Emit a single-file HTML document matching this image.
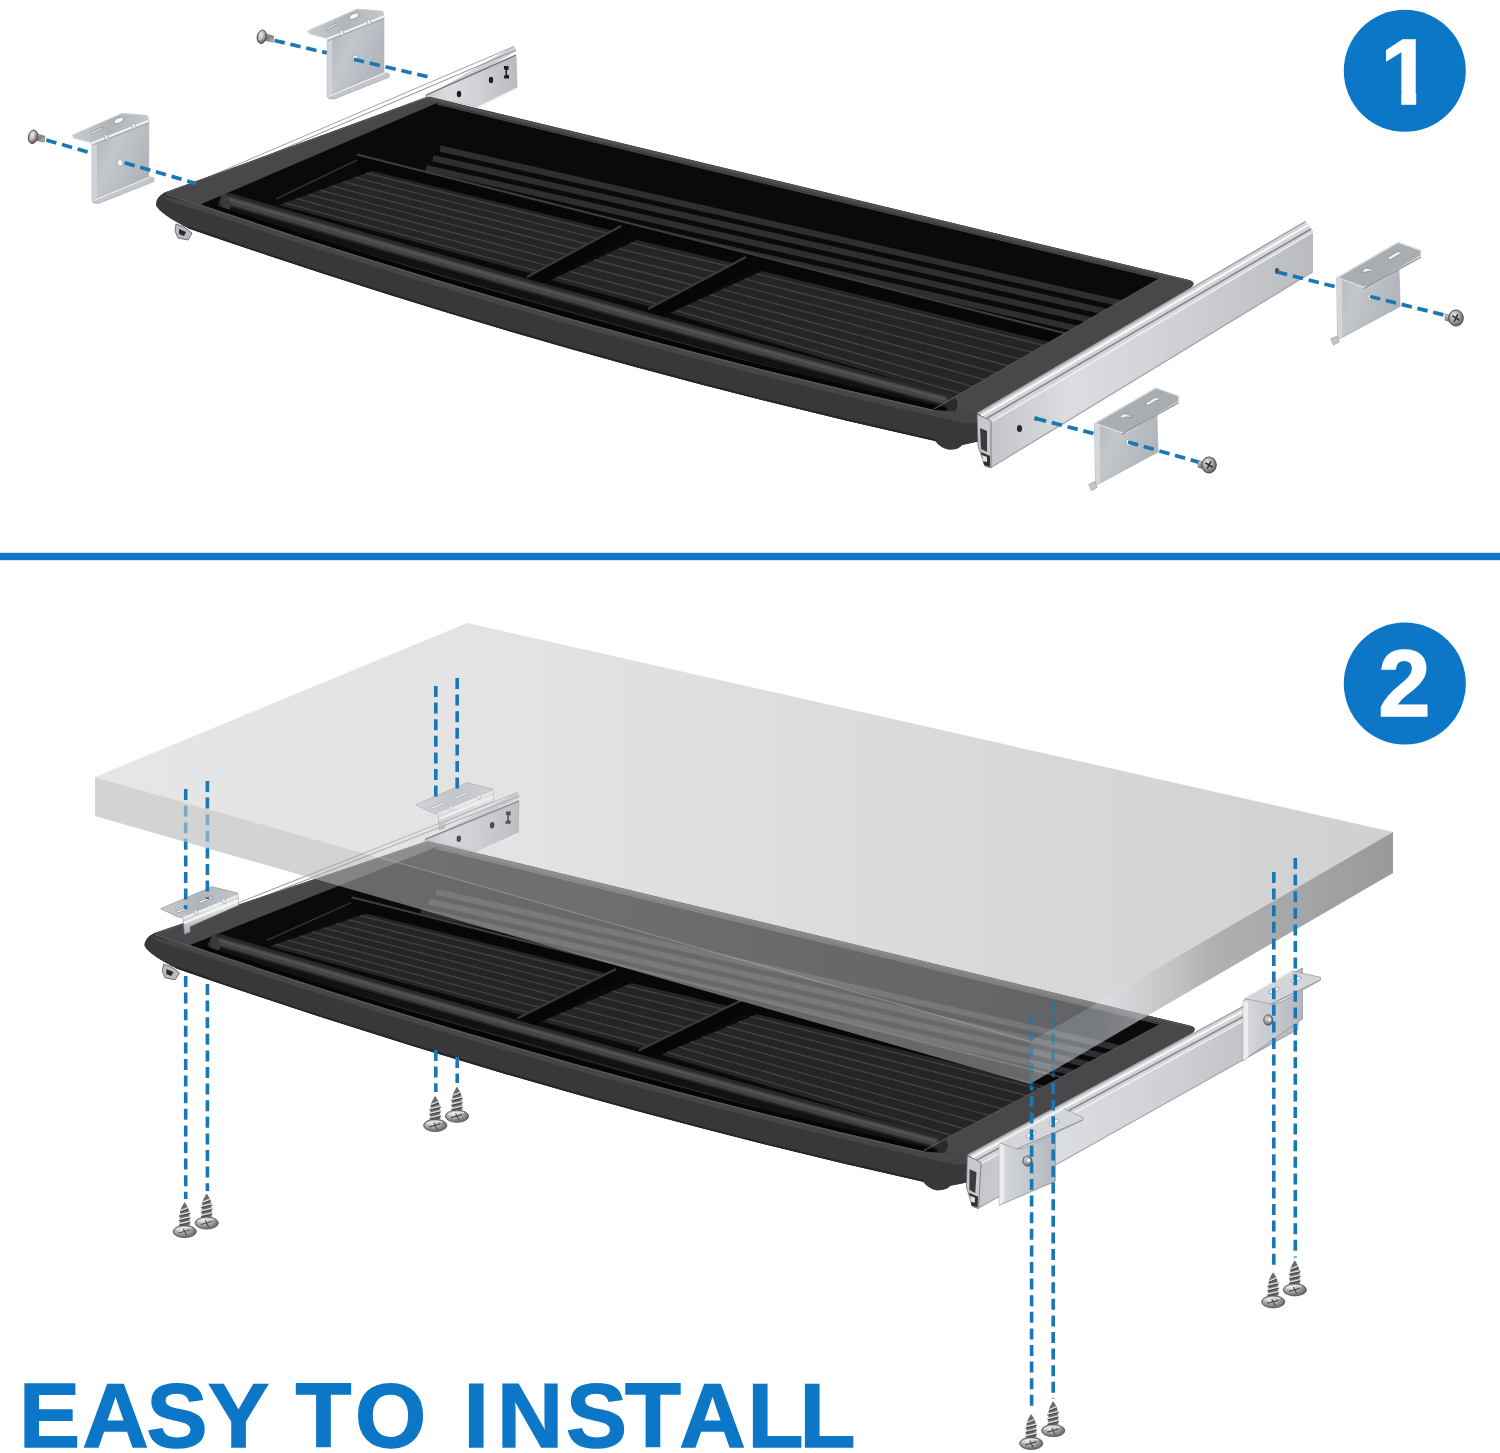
<!DOCTYPE html>
<html lang="en"><head><meta charset="utf-8"><title>Easy to install</title>
<style>html,body{margin:0;padding:0;background:#fff}body{width:1500px;height:1453px;overflow:hidden}svg{display:block}text{font-family:"Liberation Sans",sans-serif;font-weight:bold}</style></head><body>
<svg width="1500" height="1453" viewBox="0 0 1500 1453">
<defs>
<linearGradient id="gRailFace" x1="0" y1="0" x2="1" y2="0">
  <stop offset="0" stop-color="#c3c5c8"/><stop offset="0.25" stop-color="#dcdde0"/>
  <stop offset="0.6" stop-color="#cfd0d3"/><stop offset="1" stop-color="#b9bbbf"/>
</linearGradient>
<linearGradient id="gRailTop" x1="0" y1="0" x2="0.05" y2="1" gradientUnits="objectBoundingBox">
  <stop offset="0" stop-color="#9a9ca0"/><stop offset="0.5" stop-color="#f4f4f5"/><stop offset="1" stop-color="#8d8f93"/>
</linearGradient>
<linearGradient id="gPlate" x1="0" y1="0" x2="1" y2="0.6">
  <stop offset="0" stop-color="#aab0b7"/><stop offset="0.45" stop-color="#c3c7cc"/><stop offset="1" stop-color="#b0b4ba"/>
</linearGradient>
<linearGradient id="gFlange" x1="0" y1="0" x2="1" y2="0">
  <stop offset="0" stop-color="#c9ccd0"/><stop offset="0.5" stop-color="#b1b5ba"/><stop offset="1" stop-color="#c3c6ca"/>
</linearGradient>
<linearGradient id="gPlate2" x1="0" y1="0" x2="1" y2="0">
  <stop offset="0" stop-color="#d6d8db"/><stop offset="0.5" stop-color="#c6c9cd"/><stop offset="1" stop-color="#b3b7bc"/>
</linearGradient>
<linearGradient id="gZ" x1="0" y1="0" x2="0.3" y2="1">
  <stop offset="0" stop-color="#aeb2b7"/><stop offset="0.45" stop-color="#e6e7e9"/><stop offset="1" stop-color="#9da1a6"/>
</linearGradient>
<linearGradient id="gBar" x1="0" y1="0" x2="0" y2="1">
  <stop offset="0" stop-color="#141415"/><stop offset="0.35" stop-color="#343436"/><stop offset="0.7" stop-color="#1a1a1b"/><stop offset="1" stop-color="#0b0b0c"/>
</linearGradient>
<linearGradient id="gDeskTop" x1="95" y1="0" x2="1393" y2="0" gradientUnits="userSpaceOnUse">
  <stop offset="0" stop-color="#cecfd1"/><stop offset="0.35" stop-color="#c8c9cb"/><stop offset="0.62" stop-color="#b9babc"/><stop offset="1" stop-color="#a6a7a9"/>
</linearGradient>
<linearGradient id="gDeskTop2" x1="95" y1="0" x2="1393" y2="0" gradientUnits="userSpaceOnUse">
  <stop offset="0" stop-color="#c9cacc" stop-opacity="0"/><stop offset="0.45" stop-color="#c9cacc" stop-opacity="0.08"/><stop offset="0.65" stop-color="#c6c7c9" stop-opacity="0.3"/>
  <stop offset="0.82" stop-color="#c3c4c6" stop-opacity="0.7"/><stop offset="1" stop-color="#bfc0c2" stop-opacity="0.95"/>
</linearGradient>
<linearGradient id="gDeskSide" x1="1030" y1="0" x2="1393" y2="0" gradientUnits="userSpaceOnUse">
  <stop offset="0" stop-color="#dbe3ec" stop-opacity="0.5"/><stop offset="0.2" stop-color="#c3c7cb" stop-opacity="0.6"/>
  <stop offset="0.5" stop-color="#a9aaac" stop-opacity="0.92"/><stop offset="1" stop-color="#98999b"/>
</linearGradient>
<linearGradient id="gScrew" x1="0" y1="0" x2="1" y2="1">
  <stop offset="0" stop-color="#e8e8e8"/><stop offset="0.5" stop-color="#7d7d7d"/><stop offset="1" stop-color="#c9c9c9"/>
</linearGradient>
<radialGradient id="gHead" cx="0.4" cy="0.35" r="0.7">
  <stop offset="0" stop-color="#f2f2f2"/><stop offset="0.55" stop-color="#9b9b9b"/><stop offset="1" stop-color="#5a5a5a"/>
</radialGradient>
<g id="wscrew"><path d="M0,0 C1.8,3 3.8,6 4.2,9.5 L4.9,26.5 L-4.9,26.5 L-4.2,9.5 C-3.8,6 -1.8,3 0,0 Z" fill="#6b6b6b" stroke="#4a4a4a" stroke-width="0.5"/><path d="M-3.2,7.8 L3.2,5.2" stroke="#d9d9d9" stroke-width="1.5" stroke-linecap="round"/><path d="M-3.2,9.2 L3.2,6.6" stroke="#3e3e3e" stroke-width="0.9" stroke-linecap="round"/><path d="M-5.4,12.3 L5.4,9.7" stroke="#d9d9d9" stroke-width="1.5" stroke-linecap="round"/><path d="M-5.4,13.7 L5.4,11.1" stroke="#3e3e3e" stroke-width="0.9" stroke-linecap="round"/><path d="M-5.4,16.8 L5.4,14.2" stroke="#d9d9d9" stroke-width="1.5" stroke-linecap="round"/><path d="M-5.4,18.2 L5.4,15.6" stroke="#3e3e3e" stroke-width="0.9" stroke-linecap="round"/><path d="M-5.4,21.3 L5.4,18.7" stroke="#d9d9d9" stroke-width="1.5" stroke-linecap="round"/><path d="M-5.4,22.7 L5.4,20.1" stroke="#3e3e3e" stroke-width="0.9" stroke-linecap="round"/><path d="M-5.4,25.8 L5.4,23.2" stroke="#d9d9d9" stroke-width="1.5" stroke-linecap="round"/><path d="M-5.4,27.2 L5.4,24.6" stroke="#3e3e3e" stroke-width="0.9" stroke-linecap="round"/><ellipse cx="0" cy="29" rx="11.6" ry="6.1" fill="url(#gHead)" stroke="#4e4e4e" stroke-width="0.8"/><path d="M-6,30.5 L5,27.5 M-1.5,26.2 L2,33" stroke="#4a4a4a" stroke-width="1.2"/><path d="M-9,27.5 Q-2,23.5 7,25.5" stroke="#f4f4f4" stroke-width="1.2" fill="none" opacity="0.8"/></g><g id="mscrewL">
<path d="M2,-3.6 L12,-0.6 L11.2,5.4 L1.2,3.2 Z" fill="url(#gScrew)" stroke="#5a5a5a" stroke-width="0.5"/>
<ellipse cx="0" cy="0" rx="4.6" ry="6.8" fill="url(#gHead)" stroke="#3f3f3f" stroke-width="0.8" transform="rotate(12)"/>
<ellipse cx="-1.2" cy="-0.5" rx="2" ry="4.4" fill="#dcdcdc" opacity="0.55" transform="rotate(12)"/>
</g>
<g id="mscrewR">
<path d="M-11,-4.2 L-2,-1.5 L-2,5 L-11,2.2 Z" fill="url(#gScrew)" stroke="#5a5a5a" stroke-width="0.5"/>
<ellipse cx="0" cy="0" rx="7.3" ry="8" fill="url(#gHead)" stroke="#444" stroke-width="0.9"/>
<path d="M-3.6,-2.2 L3.6,2.2 M1.8,-3.6 L-1.8,3.6" stroke="#333" stroke-width="1.6"/>
</g><g id="brL"><polygon points="92.1,142.7 148.7,120.3 148.7,176.8 92.1,200.3" fill="url(#gPlate)" stroke="#a3a6ab" stroke-width="0.7"/><polygon points="92.1,142.7 97.0,140.8 97.0,198.2 92.1,200.3" fill="#cfd2d6" /><polygon points="92.1,200.3 148.7,176.8 154.0,178.0 154.0,181.5 98.5,203.5 93.5,203.0" fill="#c3c6ca" stroke="#a0a3a8" stroke-width="0.6" stroke-linejoin="round"/><line x1="93.0" y1="200.6" x2="150.0" y2="177.0" stroke="#ecedef" stroke-width="1.3" /><polygon points="72.4,135.2 122.0,113.3 147.6,115.5 148.7,120.3 92.1,142.7 74.0,138.0" fill="url(#gFlange)" stroke="#cfd1d4" stroke-width="1" stroke-linejoin="round"/><line x1="92.1" y1="143.2" x2="148.7" y2="120.8" stroke="#f1f2f3" stroke-width="2" /><line x1="92.5" y1="145.0" x2="148.7" y2="122.8" stroke="#9a9da2" stroke-width="0.9" /><ellipse cx="106.3" cy="137.2" rx="1.8" ry="3.2" fill="#eceded" stroke="#8b8e93" stroke-width="0.6" transform="rotate(-20 106.3 137.2)"/><ellipse cx="133.8" cy="126.2" rx="1.8" ry="3.2" fill="#eceded" stroke="#8b8e93" stroke-width="0.6" transform="rotate(-20 133.8 126.2)"/><path d="M90.5,132.6 L102.3,127 L103.2,128.4 L91.6,134.2 Z" fill="#f6f6f7" stroke="#7e8186" stroke-width="0.7" stroke-linejoin="round"/><ellipse cx="118.8" cy="120.4" rx="5.2" ry="2.6" fill="#f6f6f7" stroke="#7e8186" stroke-width="0.7" transform="rotate(-22 118.8 120.4)"/><ellipse cx="120" cy="162.8" rx="2.7" ry="3.3" fill="#fafafa" stroke="#8e9196" stroke-width="0.6"/></g><g id="brR"><polygon points="1094.7,423.3 1156.0,388.0 1158.0,452.0 1095.5,485.5" fill="url(#gPlate)" stroke="#a3a6ab" stroke-width="0.7"/><polygon points="1094.7,423.3 1100.0,426.0 1100.0,483.0 1095.5,485.5" fill="#d4d6d9" /><polygon points="1088.7,484.5 1095.0,481.5 1097.0,487.5 1091.5,490.5" fill="#c4c6c9" stroke="#8e9094" stroke-width="0.6"/><polygon points="1095.3,423.3 1156.0,388.0 1178.7,396.0 1178.7,401.5 1127.0,432.2 1121.3,432.7" fill="#a9acb1" stroke="#dddee0" stroke-width="1.3" stroke-linejoin="round"/><line x1="1122.0" y1="434.0" x2="1178.7" y2="402.8" stroke="#8b8d91" stroke-width="1.1" /><path d="M1119,417.5 l4.5,-3.8 l5.5,1 l3,3.2 l-4.5,-1.2 l-5,1.2 z" fill="#eeeeef" stroke="#777a7f" stroke-width="0.6"/><path d="M1145,403.5 l10.5,-6.3 l3.2,0.6 l1,2.6 l-2.2,-0.6 l-9.5,5.6 z" fill="#eeeeef" stroke="#777a7f" stroke-width="0.6"/><ellipse cx="1128.5" cy="442.5" rx="2.6" ry="3.2" fill="#fafafa" stroke="#8a8d92" stroke-width="0.6"/></g><g id="railL"><polygon points="157.0,199.0 427.0,96.0 514.0,46.0 516.5,51.0 431.0,101.0 161.0,203.0" fill="#cfd0d3" /><line x1="158.0" y1="198.5" x2="514.0" y2="46.5" stroke="#a2a4a8" stroke-width="1" /><line x1="160.0" y1="201.5" x2="516.0" y2="50.0" stroke="#8f9195" stroke-width="1" /></g><g id="railLface"><polygon points="425.0,96.0 516.0,56.0 517.0,88.0 478.0,107.0" fill="url(#gRailFace)" stroke="#a5a7ab" stroke-width="0.6"/><line x1="426.0" y1="95.0" x2="516.0" y2="55.0" stroke="#6f7175" stroke-width="1.3" /><line x1="478.0" y1="107.5" x2="517.0" y2="88.5" stroke="#f3f3f4" stroke-width="2" /><ellipse cx="459" cy="94" rx="2.2" ry="3.3" fill="#1d1d1f"/><ellipse cx="491" cy="80" rx="2.2" ry="3.3" fill="#1d1d1f"/><path d="M504,66 h4.5 v4 h-1.5 v5 h2 v3.5 h-5 v-3 h1.5 v-6 h-1.5 z" fill="#1d1d1f"/></g><g id="tray"><polygon points="176.0,224.0 184.0,227.0 192.0,233.0 188.0,240.0 178.0,238.0 175.0,231.0" fill="#b9bbbf" stroke="#55575b" stroke-width="0.8"/><polygon points="179.0,229.0 186.0,232.0 184.0,236.0 179.0,234.0" fill="#2a2a2c" /><path d="M156,205 Q156,197 165,192.5 L426,97.5 Q428.5,96.5 431,97.3 L1189,280 Q1197,282.5 1191,287.5 L983,414 L985,436 Q984,441 978,441.5 L962,445 Q958,450 949,449.5 Q941,448.5 935.0,440.8 Q561.5,357.9 188.0,228.0 Q160,214 156,205 Z" fill="#38383a"/><path d="M160,198 Q160,195 165,192.5 L426,97.5 Q428.5,96.5 431,97.3 L1189,280 Q1197,282.5 1191,287.5 L983,414 L934.0,410.0 Q566.5,328.3 199.0,204.1 Z" fill="#48484a"/><path d="M165,193 L427,98 L1189,281" fill="none" stroke="#565658" stroke-width="1.3"/><path d="M199.0,205.1 L437,103 L1161,278 L934.0,409.0 Q566.5,328.3 199.0,204.1 Z" fill="#0a0a0b"/><clipPath id="clipInner"><path d="M199.0,205.1 L437,103 L1161,278 L934.0,409.0 Q566.5,328.3 199.0,204.1 Z"/></clipPath><g clip-path="url(#clipInner)"><line x1="437.0" y1="103.5" x2="1161.0" y2="278.5" stroke="#454547" stroke-width="2.2" /><line x1="440.0" y1="148.5" x2="1150.0" y2="310.0" stroke="#2f2f31" stroke-width="6.2" /><line x1="433.0" y1="158.2" x2="1136.0" y2="318.6" stroke="#2f2f31" stroke-width="6.2" /><line x1="426.0" y1="167.9" x2="1122.0" y2="327.2" stroke="#2f2f31" stroke-width="6.2" /><line x1="419.0" y1="177.6" x2="1108.0" y2="335.8" stroke="#2f2f31" stroke-width="6.2" /><polygon points="357.0,154.0 1070.0,334.0 1058.0,351.0 357.0,171.0" fill="#070708" /><line x1="357.0" y1="154.5" x2="1070.0" y2="334.5" stroke="#3d3d3f" stroke-width="2" /><polygon points="372.0,171.0 622.0,233.0 533.0,274.0 279.0,205.0" fill="#252527" /><line x1="366.2" y1="173.1" x2="616.4" y2="235.6" stroke="#434345" stroke-width="1.3" /><line x1="354.6" y1="177.4" x2="605.3" y2="240.7" stroke="#434345" stroke-width="1.3" /><line x1="342.9" y1="181.6" x2="594.2" y2="245.8" stroke="#434345" stroke-width="1.3" /><line x1="331.3" y1="185.9" x2="583.1" y2="250.9" stroke="#434345" stroke-width="1.3" /><line x1="319.7" y1="190.1" x2="571.9" y2="256.1" stroke="#434345" stroke-width="1.3" /><line x1="308.1" y1="194.4" x2="560.8" y2="261.2" stroke="#434345" stroke-width="1.3" /><line x1="296.4" y1="198.6" x2="549.7" y2="266.3" stroke="#434345" stroke-width="1.3" /><line x1="284.8" y1="202.9" x2="538.6" y2="271.4" stroke="#434345" stroke-width="1.3" /><polygon points="637.0,240.0 746.0,266.0 655.0,308.0 551.0,280.0" fill="#252527" /><line x1="630.9" y1="242.9" x2="739.5" y2="269.0" stroke="#434345" stroke-width="1.3" /><line x1="618.6" y1="248.6" x2="726.5" y2="275.0" stroke="#434345" stroke-width="1.3" /><line x1="606.3" y1="254.3" x2="713.5" y2="281.0" stroke="#434345" stroke-width="1.3" /><line x1="594.0" y1="260.0" x2="700.5" y2="287.0" stroke="#434345" stroke-width="1.3" /><line x1="581.7" y1="265.7" x2="687.5" y2="293.0" stroke="#434345" stroke-width="1.3" /><line x1="569.4" y1="271.4" x2="674.5" y2="299.0" stroke="#434345" stroke-width="1.3" /><line x1="557.1" y1="277.1" x2="661.5" y2="305.0" stroke="#434345" stroke-width="1.3" /><polygon points="762.0,271.0 1062.0,345.0 962.0,399.0 670.0,313.0" fill="#252527" /><line x1="756.2" y1="273.6" x2="1055.8" y2="348.4" stroke="#434345" stroke-width="1.3" /><line x1="744.8" y1="278.9" x2="1043.2" y2="355.1" stroke="#434345" stroke-width="1.3" /><line x1="733.2" y1="284.1" x2="1030.8" y2="361.9" stroke="#434345" stroke-width="1.3" /><line x1="721.8" y1="289.4" x2="1018.2" y2="368.6" stroke="#434345" stroke-width="1.3" /><line x1="710.2" y1="294.6" x2="1005.8" y2="375.4" stroke="#434345" stroke-width="1.3" /><line x1="698.8" y1="299.9" x2="993.2" y2="382.1" stroke="#434345" stroke-width="1.3" /><line x1="687.2" y1="305.1" x2="980.8" y2="388.9" stroke="#434345" stroke-width="1.3" /><line x1="675.8" y1="310.4" x2="968.2" y2="395.6" stroke="#434345" stroke-width="1.3" /><polygon points="621.0,226.0 527.0,277.0 527.0,292.0 621.0,241.0" fill="#060607" /><line x1="621.0" y1="226.0" x2="527.0" y2="277.0" stroke="#3a3a3c" stroke-width="2.2" /><polygon points="746.0,257.0 648.0,309.0 648.0,324.0 746.0,272.0" fill="#060607" /><line x1="746.0" y1="257.0" x2="648.0" y2="309.0" stroke="#3a3a3c" stroke-width="2.2" /><line x1="357.0" y1="160.0" x2="276.0" y2="199.0" stroke="#303032" stroke-width="1.6" /></g><path d="M229.0,203.8 Q588.0,309.5 947.0,404.3" fill="none" stroke="#2a2a2c" stroke-width="21" stroke-linecap="round"/><path d="M231.0,210.4 Q587.5,315.3 944.0,409.5" fill="none" stroke="#121213" stroke-width="7" stroke-linecap="round"/><path d="M229.0,200.3 Q586.5,305.5 944.0,400.0" fill="none" stroke="#434346" stroke-width="7.5" stroke-linecap="round"/><path d="M229.0,199.3 Q586.5,304.5 944.0,399.0" fill="none" stroke="#525255" stroke-width="2.6" stroke-linecap="round"/><ellipse cx="225.5" cy="203" rx="4.4" ry="9.4" fill="#3a3a3c" transform="rotate(-14 225.5 203)"/><path d="M215.0,207.3 Q580.0,329.7 945.0,410.2" fill="none" stroke="#050506" stroke-width="4.5"/><path d="M156,205 Q156,197 165,192.5 L199.0,204.1 Q566.5,328.3 934.0,410.0 L983,414 L985,436 Q984,441 978,441.5 L962,445 Q958,450 949,449.5 Q941,448.5 935.0,440.8 Q561.5,357.9 188.0,228.0 Q160,214 156,205 Z" fill="#38383a"/><path d="M162,196.5 L199.0,204.1 Q566.5,328.3 934.0,410.0 L983,414 Q982,424 966,423.5 Q582.5,339.7 199.0,210.1 Q170,203 162,196.5 Z" fill="#464648"/><path d="M166,194 L199.0,204.7 Q566.5,328.9 934.0,410.6" fill="none" stroke="#5a5a5c" stroke-width="1.2"/><path d="M188.0,227.2 Q561.5,357.1 935.0,440.0" fill="none" stroke="#262627" stroke-width="2"/><line x1="1161.0" y1="278.0" x2="934.0" y2="409.0" stroke="#555557" stroke-width="1.2" /></g><g id="railR"><polygon points="977.0,413.0 1305.0,221.0 1313.0,231.0 991.0,421.0" fill="#d4d5d8" /><line x1="978.0" y1="413.5" x2="1305.5" y2="221.5" stroke="#9fa1a5" stroke-width="1.3" /><line x1="981.0" y1="416.0" x2="1308.0" y2="225.0" stroke="#fafafa" stroke-width="2" /><line x1="985.5" y1="419.0" x2="1311.0" y2="229.0" stroke="#85878b" stroke-width="1.6" /><polygon points="991.0,421.0 1313.0,231.0 1313.0,272.0 991.0,468.0" fill="url(#gRailFace)" /><line x1="991.0" y1="422.0" x2="1313.0" y2="232.0" stroke="#eff0f1" stroke-width="1.4" /><line x1="991.0" y1="467.5" x2="1313.0" y2="271.5" stroke="#a4a6aa" stroke-width="1.2" /><polygon points="977.0,414.0 991.0,421.0 991.0,468.0 985.0,466.0 978.0,446.0" fill="#c6c8cb" stroke="#6b6d71" stroke-width="0.8"/><polygon points="980.0,428.0 987.0,431.0 987.0,452.0 981.0,449.0" fill="#3b3c3f" /><polygon points="981.0,452.0 990.0,456.0 990.0,467.0 984.0,465.0" fill="#2f3033" /><polygon points="982.0,455.0 987.0,457.0 987.0,462.0 983.0,461.0" fill="#e1e2e4" /><ellipse cx="1019.5" cy="428.5" rx="2.6" ry="3.6" fill="#2a2a2c"/><ellipse cx="1036" cy="418.5" rx="2" ry="2.6" fill="#4d6f8f"/><ellipse cx="1277" cy="271" rx="2" ry="3" fill="#3d4a57"/></g><g id="railR2"><polygon points="977.0,413.0 1287.0,231.6 1295.3,241.5 991.0,421.0" fill="#d4d5d8" /><line x1="978.0" y1="413.5" x2="1287.5" y2="232.1" stroke="#9fa1a5" stroke-width="1.3" /><line x1="981.0" y1="416.0" x2="1290.0" y2="235.5" stroke="#fafafa" stroke-width="2" /><line x1="985.5" y1="419.0" x2="1293.1" y2="239.5" stroke="#85878b" stroke-width="1.6" /><polygon points="991.0,421.0 1295.3,241.5 1295.3,282.8 991.0,468.0" fill="url(#gRailFace)" /><line x1="991.0" y1="422.0" x2="1295.3" y2="242.5" stroke="#eff0f1" stroke-width="1.4" /><line x1="991.0" y1="467.5" x2="1295.3" y2="282.3" stroke="#a4a6aa" stroke-width="1.2" /><polygon points="977.0,414.0 991.0,421.0 991.0,468.0 985.0,466.0 978.0,446.0" fill="#c6c8cb" stroke="#6b6d71" stroke-width="0.8"/><polygon points="980.0,428.0 987.0,431.0 987.0,452.0 981.0,449.0" fill="#3b3c3f" /><polygon points="981.0,452.0 990.0,456.0 990.0,467.0 984.0,465.0" fill="#2f3033" /><polygon points="982.0,455.0 987.0,457.0 987.0,462.0 983.0,461.0" fill="#e1e2e4" /><ellipse cx="1019.5" cy="428.5" rx="2.6" ry="3.6" fill="#2a2a2c"/><ellipse cx="1036" cy="418.5" rx="2" ry="2.6" fill="#4d6f8f"/></g></defs>
<rect width="1500" height="1453" fill="#ffffff"/>
<g id="step1">
<use href="#railL"/><use href="#railLface"/><use href="#tray"/><use href="#railR"/>
<use href="#brL"/>
<use href="#brL" transform="translate(235.2,-104.3)"/>
<line x1="46.3" y1="140.0" x2="91.5" y2="153.1" stroke="#1877b4" stroke-width="3.7" stroke-dasharray="10.5 5.8" stroke-dashoffset="0.0"/>
<line x1="121.0" y1="161.7" x2="196.0" y2="183.5" stroke="#1877b4" stroke-width="3.7" stroke-dasharray="10.5 5.8" stroke-dashoffset="12.6"/>
<line x1="274.5" y1="40.5" x2="326.8" y2="52.9" stroke="#1877b4" stroke-width="3.7" stroke-dasharray="10.5 5.8" stroke-dashoffset="0.0"/>
<line x1="353.0" y1="59.1" x2="428.0" y2="76.8" stroke="#1877b4" stroke-width="3.7" stroke-dasharray="10.5 5.8" stroke-dashoffset="15.5"/>
<use href="#mscrewL" transform="translate(33,136.8)"/>
<use href="#mscrewL" transform="translate(261.8,36.8)"/>
<line x1="1036.0" y1="418.5" x2="1122.0" y2="441.0" stroke="#1877b4" stroke-width="3.7" stroke-dasharray="10.5 5.8" stroke-linecap="butt" />
<line x1="1277.0" y1="272.0" x2="1362.0" y2="293.5" stroke="#1877b4" stroke-width="3.7" stroke-dasharray="10.5 5.8" stroke-linecap="butt" />
<use href="#brR"/>
<use href="#brR" transform="translate(242.1,-145.6)"/>
<line x1="1128.0" y1="442.0" x2="1200.0" y2="462.5" stroke="#1877b4" stroke-width="3.7" stroke-dasharray="10.5 5.8" stroke-linecap="butt" />
<line x1="1370.0" y1="296.5" x2="1448.0" y2="316.0" stroke="#1877b4" stroke-width="3.7" stroke-dasharray="10.5 5.8" stroke-linecap="butt" />
<use href="#mscrewR" transform="translate(1209,465)"/>
<use href="#mscrewR" transform="translate(1456,318)"/>
</g>
<clipPath id="c1"><path d="M1370,30 H1440 V92 H1416.2 V110 H1401.3 V92 H1370 Z"/></clipPath>
<circle cx="1404.8" cy="70.8" r="61" fill="#0c77c6"/>
<text x="1380.5" y="104" font-size="93" fill="#fff" stroke="#fff" stroke-width="1.5" clip-path="url(#c1)">1</text>
<rect x="0" y="552.8" width="1500" height="7.4" fill="#0c77c6"/>
<g id="step2">
<g transform="matrix(1.01667 0.00682 -0.05682 0.97934 -2.5 743.5)"><use href="#railL"/><use href="#railLface"/><use href="#tray"/><use href="#railR2"/></g>
<g><polygon points="999.3,1142.7 1055.3,1117.0 1055.3,1181.3 999.3,1205.3" fill="url(#gPlate2)" stroke="#8d9095" stroke-width="0.8" stroke-linejoin="round"/><polygon points="999.3,1142.7 1004.3,1144.2 1004.3,1201.8 999.3,1205.3" fill="#eceded" /><polygon points="999.3,1142.7 1064.0,1108.7 1082.7,1117.3 1082.7,1120.0 1024.0,1148.5 1017.0,1149.0" fill="#d3d5d8" stroke="#9a9da2" stroke-width="0.8" stroke-linejoin="round"/><line x1="999.3" y1="1142.7" x2="1064.0" y2="1108.7" stroke="#f5f5f6" stroke-width="1.2" /><line x1="1017.0" y1="1149.0" x2="1082.7" y2="1120.0" stroke="#8b8e93" stroke-width="1.0" /><ellipse cx="1031" cy="1134.5" rx="5.5" ry="2.2" fill="#f8f8f9" stroke="#858a90" stroke-width="0.6" transform="rotate(-27 1031 1134.5)"/><ellipse cx="1054" cy="1122.5" rx="5.5" ry="2.2" fill="#f8f8f9" stroke="#858a90" stroke-width="0.6" transform="rotate(-27 1054 1122.5)"/><ellipse cx="1027.5" cy="1161" rx="4.6" ry="5.2" fill="url(#gHead)" stroke="#4e4e4e" stroke-width="0.8"/><ellipse cx="1028.5" cy="1160.5" rx="2.2" ry="2.6" fill="#e9e9ea" stroke="#6a6a6a" stroke-width="0.5"/></g>
<g><polygon points="1243.2,1000.8 1302.4,968.0 1302.4,1019.0 1243.2,1060.5" fill="url(#gPlate2)" stroke="#8d9095" stroke-width="0.8" stroke-linejoin="round"/><polygon points="1243.2,1000.8 1248.2,1002.3 1248.2,1057.0 1243.2,1060.5" fill="#eceded" /><polygon points="1244.0,998.5 1291.7,970.9 1320.5,977.3 1320.5,980.0 1281.0,1002.5 1271.0,1004.0" fill="#d3d5d8" stroke="#9a9da2" stroke-width="0.8" stroke-linejoin="round"/><line x1="1244.0" y1="998.5" x2="1291.7" y2="970.9" stroke="#f5f5f6" stroke-width="1.2" /><line x1="1271.0" y1="1004.0" x2="1320.5" y2="980.0" stroke="#8b8e93" stroke-width="1.0" /><ellipse cx="1274" cy="990.5" rx="5.5" ry="2.2" fill="#f8f8f9" stroke="#858a90" stroke-width="0.6" transform="rotate(-27 1274 990.5)"/><ellipse cx="1296" cy="979.5" rx="5.5" ry="2.2" fill="#f8f8f9" stroke="#858a90" stroke-width="0.6" transform="rotate(-27 1296 979.5)"/><ellipse cx="1268.3" cy="1020" rx="4.6" ry="5.2" fill="url(#gHead)" stroke="#4e4e4e" stroke-width="0.8"/><ellipse cx="1269.3" cy="1019.5" rx="2.2" ry="2.6" fill="#e9e9ea" stroke="#6a6a6a" stroke-width="0.5"/></g>
<polygon points="467.0,623.0 1393.0,832.0 1030.0,1041.5 95.0,777.0" fill="url(#gDeskTop)" fill-opacity="0.53"/>
<polygon points="95.0,777.0 1030.0,1041.5 1030.0,1084.0 95.0,816.0" fill="#b1b2b4" fill-opacity="0.567"/>
<polygon points="1030.0,1041.5 1393.0,832.0 1393.0,873.0 1030.0,1084.0" fill="url(#gDeskSide)" />
<line x1="95.0" y1="777.0" x2="1030.0" y2="1041.5" stroke="#e9eaeb" stroke-width="1.2" stroke-opacity="0.3"/>
<g transform="matrix(1.01667 0.00682 -0.05682 0.97934 -2.5 743.5)" opacity="0.45"><use href="#railLface"/></g>
<g transform="translate(0,0)"><polygon points="183.0,917.5 238.0,895.0 238.8,905.0 190.0,926.5 190.0,932.0 184.5,934.0" fill="url(#gZ)" stroke="#8b8e93" stroke-width="0.6" stroke-linejoin="round"/><line x1="184.0" y1="923.0" x2="238.4" y2="900.5" stroke="#f7f7f8" stroke-width="2.2" /><polygon points="160.7,908.7 212.0,886.7 237.5,893.0 238.0,895.3 183.0,917.8 178.0,917.0" fill="url(#gFlange)" stroke="#8f9297" stroke-width="0.7" stroke-linejoin="round"/><line x1="183.0" y1="918.0" x2="238.0" y2="895.6" stroke="#f4f4f5" stroke-width="1.6" /><ellipse cx="196" cy="912.5" rx="1.6" ry="2.8" fill="#f2f2f3" stroke="#85888d" stroke-width="0.5" transform="rotate(-20 196 912.5)"/><ellipse cx="224" cy="901" rx="1.6" ry="2.8" fill="#f2f2f3" stroke="#85888d" stroke-width="0.5" transform="rotate(-20 224 901)"/><path d="M176,911.5 L189,906 L190,907.6 L177,913.2 Z" fill="#fbfbfb" stroke="#777a7f" stroke-width="0.6" stroke-linejoin="round"/><path d="M199,901.5 L212,896 L213,897.6 L200,903.2 Z" fill="#fbfbfb" stroke="#777a7f" stroke-width="0.6" stroke-linejoin="round"/></g>
<g opacity="0.62"><g transform="translate(255,-104)"><polygon points="183.0,917.5 238.0,895.0 238.8,905.0 190.0,926.5 190.0,932.0 184.5,934.0" fill="url(#gZ)" stroke="#8b8e93" stroke-width="0.6" stroke-linejoin="round"/><line x1="184.0" y1="923.0" x2="238.4" y2="900.5" stroke="#f7f7f8" stroke-width="2.2" /><polygon points="160.7,908.7 212.0,886.7 237.5,893.0 238.0,895.3 183.0,917.8 178.0,917.0" fill="url(#gFlange)" stroke="#8f9297" stroke-width="0.7" stroke-linejoin="round"/><line x1="183.0" y1="918.0" x2="238.0" y2="895.6" stroke="#f4f4f5" stroke-width="1.6" /><ellipse cx="196" cy="912.5" rx="1.6" ry="2.8" fill="#f2f2f3" stroke="#85888d" stroke-width="0.5" transform="rotate(-20 196 912.5)"/><ellipse cx="224" cy="901" rx="1.6" ry="2.8" fill="#f2f2f3" stroke="#85888d" stroke-width="0.5" transform="rotate(-20 224 901)"/><path d="M176,911.5 L189,906 L190,907.6 L177,913.2 Z" fill="#fbfbfb" stroke="#777a7f" stroke-width="0.6" stroke-linejoin="round"/><path d="M199,901.5 L212,896 L213,897.6 L200,903.2 Z" fill="#fbfbfb" stroke="#777a7f" stroke-width="0.6" stroke-linejoin="round"/></g></g>
</g>
<line x1="185.7" y1="789" x2="185.7" y2="802.609145" stroke="#1877b4" stroke-width="3.6" stroke-dasharray="11 5.6" stroke-dashoffset="0.0" stroke-opacity="1"/><line x1="185.7" y1="802.609145" x2="185.7" y2="841.997341" stroke="#1877b4" stroke-width="3.6" stroke-dasharray="11 5.6" stroke-dashoffset="13.6" stroke-opacity="0.45"/><line x1="185.7" y1="841.997341" x2="185.7" y2="909" stroke="#1877b4" stroke-width="3.6" stroke-dasharray="11 5.6" stroke-dashoffset="3.2" stroke-opacity="1"/>
<line x1="185.7" y1="976" x2="185.7" y2="1199" stroke="#1877b4" stroke-width="3.6" stroke-dasharray="11 5.6" stroke-dashoffset="0.0" stroke-opacity="1"/>
<line x1="207.4" y1="781" x2="207.4" y2="808.73614" stroke="#1877b4" stroke-width="3.6" stroke-dasharray="11 5.6" stroke-dashoffset="0.0" stroke-opacity="1"/><line x1="207.4" y1="808.73614" x2="207.4" y2="848.217212" stroke="#1877b4" stroke-width="3.6" stroke-dasharray="11 5.6" stroke-dashoffset="11.1" stroke-opacity="0.45"/><line x1="207.4" y1="848.217212" x2="207.4" y2="899" stroke="#1877b4" stroke-width="3.6" stroke-dasharray="11 5.6" stroke-dashoffset="0.8" stroke-opacity="1"/>
<line x1="207.4" y1="984" x2="207.4" y2="1191" stroke="#1877b4" stroke-width="3.6" stroke-dasharray="11 5.6" stroke-dashoffset="0.0" stroke-opacity="1"/>
<line x1="435.8" y1="686" x2="435.8" y2="800" stroke="#1877b4" stroke-width="3.6" stroke-dasharray="11 5.6" stroke-dashoffset="0.0" stroke-opacity="1"/>
<line x1="435.8" y1="1050" x2="435.8" y2="1092" stroke="#1877b4" stroke-width="3.6" stroke-dasharray="11 5.6" stroke-dashoffset="0.0" stroke-opacity="1"/>
<line x1="457.2" y1="678" x2="457.2" y2="790" stroke="#1877b4" stroke-width="3.6" stroke-dasharray="11 5.6" stroke-dashoffset="0.0" stroke-opacity="1"/>
<line x1="457.2" y1="1057" x2="457.2" y2="1083" stroke="#1877b4" stroke-width="3.6" stroke-dasharray="11 5.6" stroke-dashoffset="0.0" stroke-opacity="1"/>
<line x1="1031.6" y1="1013" x2="1031.6" y2="1087" stroke="#1877b4" stroke-width="3.6" stroke-dasharray="11 5.6" stroke-dashoffset="0.0" stroke-opacity="0.45"/><line x1="1031.6" y1="1087" x2="1031.6" y2="1411" stroke="#1877b4" stroke-width="3.6" stroke-dasharray="11 5.6" stroke-dashoffset="7.6" stroke-opacity="1"/>
<line x1="1053.2" y1="1000" x2="1053.2" y2="1078" stroke="#1877b4" stroke-width="3.6" stroke-dasharray="11 5.6" stroke-dashoffset="0.0" stroke-opacity="0.45"/><line x1="1053.2" y1="1078" x2="1053.2" y2="1399" stroke="#1877b4" stroke-width="3.6" stroke-dasharray="11 5.6" stroke-dashoffset="11.6" stroke-opacity="1"/>
<line x1="1273.8" y1="872" x2="1273.8" y2="1270" stroke="#1877b4" stroke-width="3.6" stroke-dasharray="11 5.6" stroke-dashoffset="0.0" stroke-opacity="1"/>
<line x1="1295.3" y1="858" x2="1295.3" y2="1257.5" stroke="#1877b4" stroke-width="3.6" stroke-dasharray="11 5.6" stroke-dashoffset="0.0" stroke-opacity="1"/>
<use href="#wscrew" transform="translate(184.7,1202.5)"/>
<use href="#wscrew" transform="translate(206.7,1194)"/>
<use href="#wscrew" transform="translate(435.2,1096.4)"/>
<use href="#wscrew" transform="translate(457,1087.2)"/>
<use href="#wscrew" transform="translate(1031.2,1414.4)"/>
<use href="#wscrew" transform="translate(1053.2,1401.6)"/>
<use href="#wscrew" transform="translate(1273.2,1272.8)"/>
<use href="#wscrew" transform="translate(1294.8,1260.8)"/>
<circle cx="1404.8" cy="683.6" r="61" fill="#0c77c6"/><text x="1378.3" y="715.5" font-size="94" fill="#fff" stroke="#fff" stroke-width="1.4">2</text>
<text x="19 82.5 146.5 208 272 295.5 355 432 463.5 497 566 625 679.5 747.5 799.5" y="1446.5" font-size="91.5" fill="#0c77c6" stroke="#0c77c6" stroke-width="1.5">EASY TO INSTALL</text>
</svg></body></html>
